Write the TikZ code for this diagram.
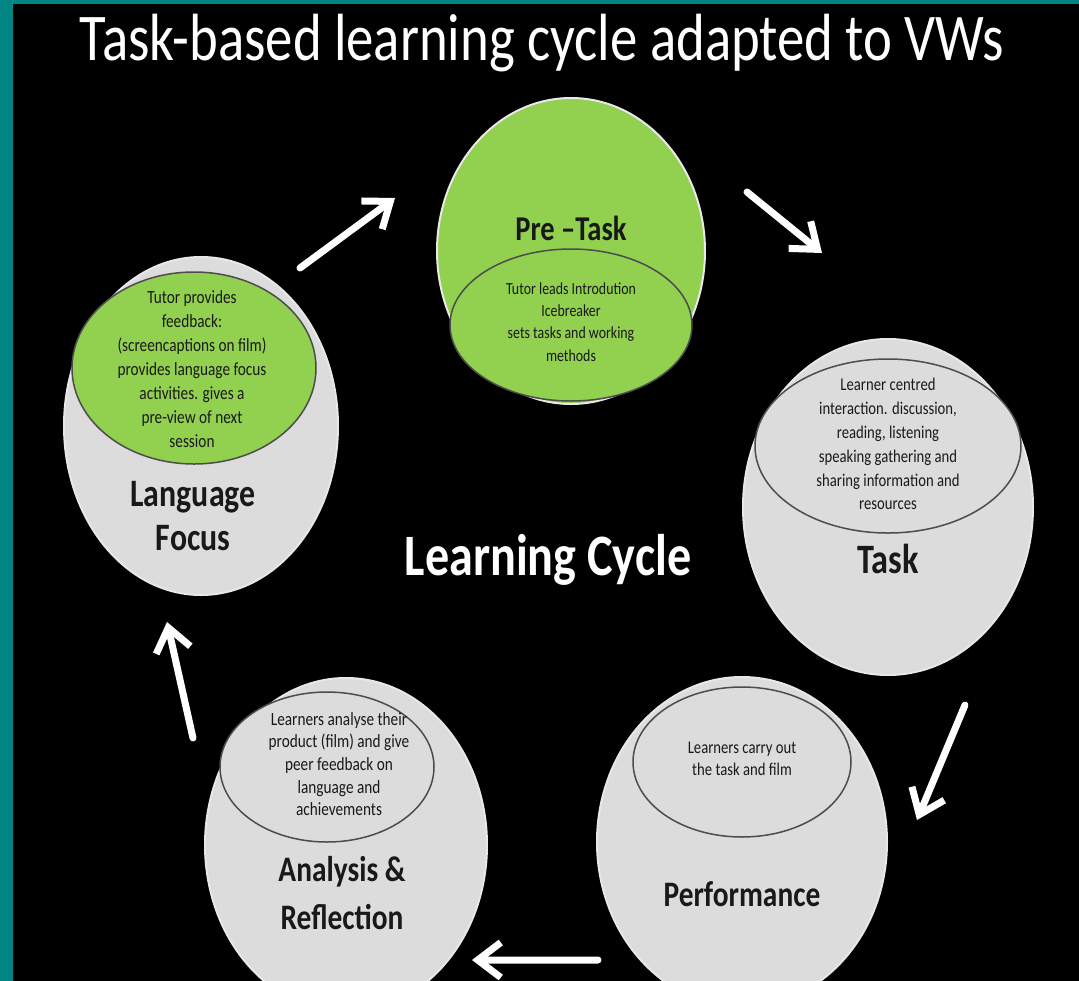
\documentclass[tikz,border=0pt]{standalone}
\usepackage{fontspec}
\setmainfont{Carlito}[FakeStretch=0.82]
\usepackage{tikz}
\usetikzlibrary{positioning}
\usetikzlibrary{arrows.meta,shapes.geometric}
\definecolor{tealbg}{RGB}{0,133,133}
\definecolor{lgreen}{RGB}{146,208,80}
\definecolor{lgray}{RGB}{220,220,220}

\begin{document}
\begin{tikzpicture}[thick,
  outer/.style={ellipse,draw={rgb,255:red,232;green,232;blue,232},line width=0.04cm,inner sep=0pt,outer sep=0pt},
  inner/.style={ellipse,draw=black!70,line width=0.03cm,inner sep=0pt,outer sep=0pt},
  txt/.style={align=center,inner sep=0pt,text=black!90},
  lbl/.style={align=center,inner sep=0pt,text=black!90,font=\bfseries}]

	% 1. Hintergrund
	\useasboundingbox (0,0) rectangle (21.58,-19.62);
	\fill[tealbg] (0,0) rectangle (21.58,-19.62);
	\fill[black] (0.26,-0.08) rectangle (21.58,-19.62);

	\node[inner sep=0pt,text=white,font=\fontsize{38}{44}\selectfont] (title) at (10.84,-0.86)
	 {Task-based learning cycle adapted to VWs};

	% 2. Kreise
	\node[inner sep=0pt,text=white,font=\bfseries\fontsize{33.4}{38}\selectfont] (LC) at (10.96,-11.2) {Learning Cycle};
	\node[outer,fill=lgreen,minimum width=5.36cm,minimum height=6.12cm] (PT) [above right=6.18cm and 0.46cm of LC.center,anchor=center] {};
	\node[outer,fill=lgray,minimum width=5.8cm,minimum height=6.72cm]   (TK) [above right=1.06cm and 6.8cm of LC.center,anchor=center] {};
	\node[outer,fill=lgray,minimum width=5.8cm,minimum height=6.6cm]    (PF) [below right=5.64cm and 3.88cm of LC.center,anchor=center] {};
	\node[outer,fill=lgray,minimum width=5.64cm,minimum height=6.68cm]  (AR) [below left=5.7cm and 4.04cm of LC.center,anchor=center] {};
	\node[outer,fill=lgray,minimum width=5.48cm,minimum height=6.76cm]  (LF) [above left=2.68cm and 6.94cm of LC.center,anchor=center] {};

	% 3. innere Ellipsen
	\node[inner,fill=lgreen,minimum width=4.84cm,minimum height=3.04cm] (PTi) [below=1.48cm of PT.center,anchor=center] {};
	\node[inner,fill=lgray,minimum width=5.32cm,minimum height=3.48cm]  (TKi) [above=1.22cm of TK.center,anchor=center] {};
	\node[inner,fill=lgray,minimum width=4.36cm,minimum height=3cm]     (PFi) [above=1.6cm of PF.center,anchor=center] {};
	\node[inner,fill=lgray,minimum width=4.28cm,minimum height=3cm]     (ARi) [above left=1.56cm and 0.38cm of AR.center,anchor=center] {};
	\node[inner,fill=lgreen,minimum width=4.88cm,minimum height=3.84cm] (LFi) [above left=1.16cm and 0.14cm of LF.center,anchor=center] {};

	% 4. Texte
	\node[lbl,font=\bfseries\fontsize{19.8}{22}\selectfont] (PTl) [above=0.46cm of PT.center,anchor=center] {Pre --Task};
	\node[txt,font=\fontsize{9.64}{12.6}\selectfont] (PTt) [below=1.42cm of PT.center,anchor=center]
	 {Tutor leads Introdution\\Icebreaker\\sets tasks and working\\methods};

	\node[txt,font=\fontsize{10.2}{13.6}\selectfont] (TKt) [above=1.26cm of TK.center,anchor=center]
	 {Learner centred\\interaction. discussion,\\reading, listening\\speaking gathering and\\sharing information and\\resources};
	\node[lbl,font=\bfseries\fontsize{23.8}{26}\selectfont] (TKl) [below=1.04cm of TK.center,anchor=center] {Task};

	\node[txt,font=\fontsize{10.2}{12.47}\selectfont] (PFt) [above=1.66cm of PF.center,anchor=center]
	 {Learners carry out\\the task and film};
	\node[lbl,font=\bfseries\fontsize{20.4}{23}\selectfont] (PFl) [below=1.04cm of PF.center,anchor=center] {Performance};

	\node[txt,font=\fontsize{10.6}{12.9}\selectfont] (ARt) [above left=1.62cm and 0.14cm of AR.center,anchor=center]
	 {Learners analyse their\\product (film) and give\\peer feedback on\\language and\\achievements};
	\node[lbl,font=\bfseries\fontsize{20.4}{27}\selectfont] (ARl) [below left=0.96cm and 0.08cm of AR.center,anchor=center] {Analysis \&\\Reflection};

	\node[txt,font=\fontsize{10.6}{13.6}\selectfont] (LFt) [above left=1.14cm and 0.18cm of LF.center,anchor=center]
	 {Tutor provides\\feedback:\\(screencaptions on film)\\provides language focus\\activities. gives a\\pre-view of next\\session};
	\node[lbl,font=\bfseries\fontsize{22.1}{25}\selectfont] (LFl) [below left=1.8cm and 0.16cm of LF.center,anchor=center] {Language\\Focus};

	% 5. Pfeile
	\coordinate[above right=3.16cm and 1.98cm of LF.center] (a1s);
	\coordinate[above left=1.06cm and 3.52cm of PT.center]  (a1e);
	\coordinate[above right=1.18cm and 3.52cm of PT.center] (a2s);
	\coordinate[above left=5.08cm and 1.32cm of TK.center]  (a2e);
	\coordinate[below right=3.96cm and 1.54cm of TK.center] (a3s);
	\coordinate[above right=0.44cm and 3.5cm of PF.center]  (a3e);
	\coordinate[below left=2.36cm and 2.88cm of PF.center]  (a4s);
	\coordinate[below right=2.3cm and 2.52cm of AR.center]  (a4e);
	\coordinate[above left=2.14cm and 3.06cm of AR.center]  (a5s);
	\coordinate[below left=3.92cm and 0.68cm of LF.center]  (a5e);

	\path[->,>={Straight Barb[length=0.46cm,width=0.7cm]},white,line width=0.14cm,line cap=round,line join=round]
	  (a1s) edge (a1e)
	  (a2s) edge (a2e)
	  (a3s) edge (a3e)
	  (a4s) edge (a4e)
	  (a5s) edge (a5e);

\end{tikzpicture}
\end{document}
